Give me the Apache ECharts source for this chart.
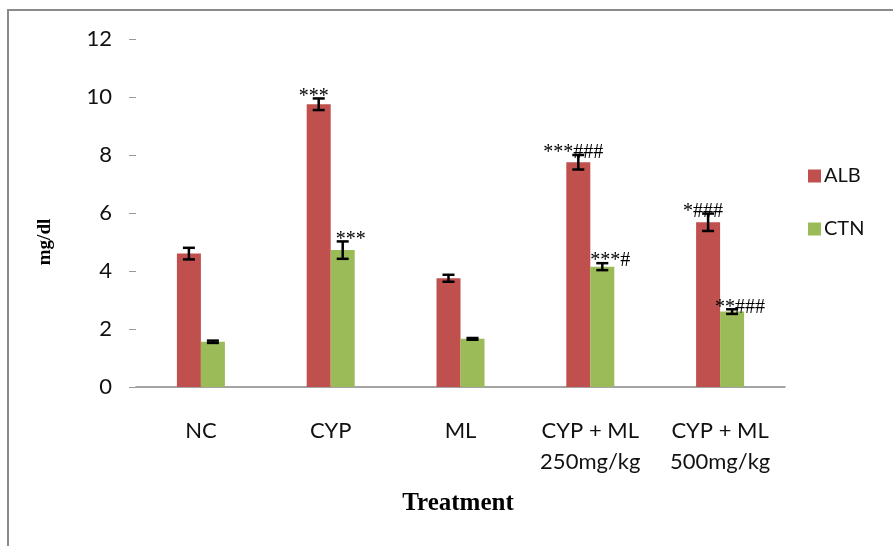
<!DOCTYPE html>
<html>
<head>
<meta charset="utf-8">
<script src="https://cdn.jsdelivr.net/npm/echarts@6/dist/echarts.min.js"></script>
<style>
  html, body { margin: 0; padding: 0; background: #fff; }
  #wrap { position: relative; width: 893px; height: 546px; overflow: hidden; }
  #frame { position: absolute; left: 7px; top: 9px; width: 1000px; height: 700px;
           border-left: 2px solid #8a8a8a; border-top: 2px solid #8a8a8a; }
  #chart { position: absolute; left: 0; top: 0; width: 893px; height: 546px; }
</style>
</head>
<body>
<div id="wrap">
  <div id="frame"></div>
  <div id="chart"></div>
</div>
<script>
// Treatment groups
const categories = ['NC', 'CYP', 'ML', 'CYP + ML\n250mg/kg', 'CYP + ML\n500mg/kg'];

// Albumin (mg/dl): means and error
const albValues = [4.6, 9.75, 3.75, 7.75, 5.68];
const albErrors = [0.2, 0.2, 0.12, 0.25, 0.3];
const albMarks  = ['', '***', '', '***###', '*###'];

// Creatinine (mg/dl): means and error
const ctnValues = [1.56, 4.72, 1.66, 4.15, 2.6];
const ctnErrors = [0.04, 0.3, 0.03, 0.12, 0.08];
const ctnMarks  = ['', '***', '', '***#', '**###'];

// Y axis ticks
const yMin = 0, yMax = 12, yStep = 2;

const BAR_W = 24;
const RED = '#C0504D';
const GREEN = '#9BBB59';

// Error bar + significance mark, drawn over a bar on side -1 (left) or +1 (right)
function errorRenderer(marks, side, markShift) {
  return function (params, api) {
    const i = api.value(0);
    const v = api.value(1);
    const e = api.value(2);
    const base = api.coord([i, v]);
    const x = base[0] + side * BAR_W / 2;
    const yTop = api.coord([i, v + e])[1];
    const yBot = api.coord([i, v - e])[1];
    const cap = 6;
    const lineStyle = { stroke: '#000', lineWidth: 2.5 };
    const children = [
      { type: 'line', shape: { x1: x, y1: yTop, x2: x, y2: yBot }, style: lineStyle },
      { type: 'line', shape: { x1: x - cap, y1: yTop, x2: x + cap, y2: yTop }, style: lineStyle },
      { type: 'line', shape: { x1: x - cap, y1: yBot, x2: x + cap, y2: yBot }, style: lineStyle }
    ];
    const m = marks[params.dataIndex];
    if (m) {
      children.push({
        type: 'text',
        style: {
          text: m, x: x + markShift, y: yTop + 8,
          align: 'center', verticalAlign: 'bottom',
          font: '20px "Liberation Serif", serif', fill: '#000'
        }
      });
    }
    return { type: 'group', children: children };
  };
}

const chart = echarts.init(document.getElementById('chart'), null, { renderer: 'canvas' });

const option = {
  animation: false,
  backgroundColor: 'transparent',
  grid: { left: 136, right: 108, top: 39, bottom: 159, containLabel: false },
  legend: {
    data: ['ALB', 'CTN'],
    orient: 'vertical',
    left: 803, top: 161,
    icon: 'rect', itemWidth: 13, itemHeight: 13, itemGap: 33,
    textStyle: { fontFamily: 'Lato', fontSize: 20, color: '#111', padding: [0, 0, 0, -2] }
  },
  xAxis: {
    type: 'category',
    data: categories,
    axisLine: { lineStyle: { color: '#868686', width: 1.5 } },
    axisTick: { length: 6, lineStyle: { color: '#868686', width: 1.5 } },
    axisLabel: { fontFamily: 'Lato', fontSize: 22, color: '#111', margin: 28, lineHeight: 31, interval: 0 }
  },
  yAxis: {
    type: 'value',
    min: yMin, max: yMax, interval: yStep,
    axisLine: { show: false },
    axisTick: { show: true, length: 7, lineStyle: { color: '#9a9a9a', width: 1 } },
    splitLine: { show: false },
    axisLabel: { fontFamily: 'Lato', fontSize: 22, color: '#111', margin: 24 }
  },
  graphic: [
    {
      type: 'text', x: 45, y: 242, rotation: Math.PI / 2,
      style: { text: 'mg/dl', font: 'bold 19px "Liberation Serif", serif', fill: '#000',
               align: 'center', verticalAlign: 'middle' }
    },
    {
      type: 'text', x: 458, y: 504,
      style: { text: 'Treatment', font: 'bold 25px "Liberation Serif", serif', fill: '#000',
               align: 'center', verticalAlign: 'middle' }
    }
  ],
  series: [
    { name: 'ALB', type: 'bar', data: albValues, barWidth: BAR_W, barGap: '0%',
      itemStyle: { color: RED } },
    { name: 'CTN', type: 'bar', data: ctnValues, barWidth: BAR_W, barGap: '0%',
      itemStyle: { color: GREEN } },
    { name: 'ALB error', type: 'custom', z: 5,
      data: albValues.map((v, i) => [i, v, albErrors[i]]),
      encode: { x: 0, y: 1 },
      renderItem: errorRenderer(albMarks, -1, -5) },
    { name: 'CTN error', type: 'custom', z: 5,
      data: ctnValues.map((v, i) => [i, v, ctnErrors[i]]),
      encode: { x: 0, y: 1 },
      renderItem: errorRenderer(ctnMarks, 1, 8) }
  ]
};

chart.setOption(option);
</script>
</body>
</html>
